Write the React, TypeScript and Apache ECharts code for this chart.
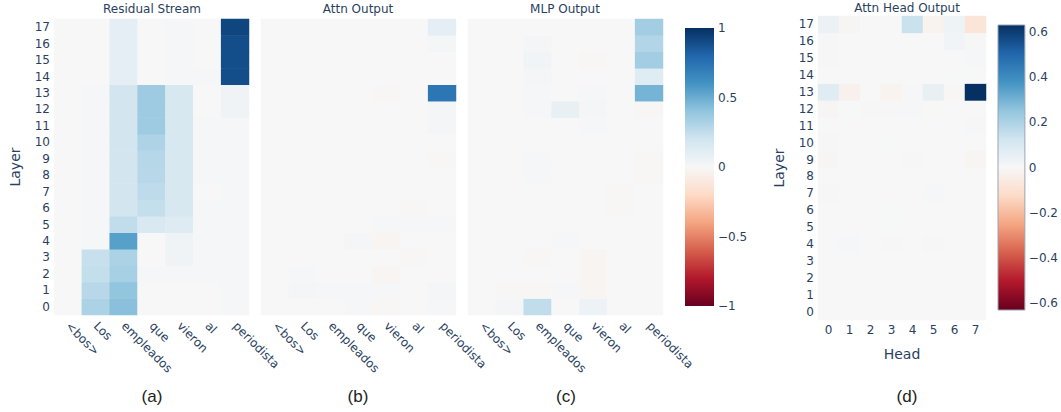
import React, { useEffect, useRef } from "react";
import * as echarts from "echarts";

const TOKENS = ["<bos>", "Los", "empleados", "que", "vieron", "al", "periodista"];
const LAYERS = ["0", "1", "2", "3", "4", "5", "6", "7", "8", "9", "10", "11", "12", "13", "14", "15", "16", "17"];
const HEADS = ["0", "1", "2", "3", "4", "5", "6", "7"];

// rows = layer 0..17, cols = tokens
const RESIDUAL = [
  [0.0, 0.32, 0.42, 0.0, 0.0, 0.0, 0.01],
  [0.0, 0.28, 0.40, 0.0, 0.0, 0.0, 0.01],
  [0.0, 0.24, 0.33, 0.01, 0.01, 0.01, 0.01],
  [0.0, 0.23, 0.32, 0.0, 0.04, 0.01, 0.01],
  [0.0, 0.01, 0.55, 0.0, 0.05, 0.01, 0.01],
  [0.0, 0.01, 0.25, 0.16, 0.13, 0.01, 0.01],
  [0.0, 0.01, 0.19, 0.24, 0.17, 0.01, 0.01],
  [0.0, 0.01, 0.19, 0.26, 0.17, 0.0, 0.01],
  [0.0, 0.01, 0.19, 0.28, 0.17, 0.01, 0.01],
  [0.0, 0.01, 0.19, 0.29, 0.17, 0.01, 0.01],
  [0.0, 0.01, 0.19, 0.31, 0.17, 0.01, 0.01],
  [0.0, 0.01, 0.19, 0.36, 0.17, 0.01, 0.01],
  [0.0, 0.01, 0.19, 0.36, 0.17, 0.0, 0.04],
  [0.0, 0.01, 0.19, 0.36, 0.17, 0.0, 0.04],
  [0.0, 0.0, 0.1, 0.0, 0.01, 0.01, 0.89],
  [0.0, 0.0, 0.1, 0.0, 0.01, 0.0, 0.89],
  [0.0, 0.0, 0.1, 0.0, 0.01, 0.0, 0.89],
  [0.0, 0.0, 0.1, 0.0, 0.01, 0.0, 0.92],
];

const ATTN = [
  [0.0, 0.0, 0.0, 0.01, -0.01, 0.0, 0.01],
  [0.0, 0.02, 0.01, 0.01, 0.01, 0.0, 0.02],
  [0.0, 0.01, 0.0, 0.0, -0.02, 0.0, 0.0],
  [0.0, 0.0, 0.0, 0.0, 0.0, -0.01, 0.0],
  [0.0, 0.0, 0.0, 0.02, -0.02, 0.0, 0.0],
  [0.0, 0.0, 0.0, 0.0, 0.01, 0.01, 0.01],
  [0.0, 0.0, 0.0, 0.0, 0.0, -0.01, 0.0],
  [0.0, 0.0, 0.0, 0.0, 0.0, 0.0, 0.0],
  [0.0, 0.0, 0.0, 0.0, 0.0, 0.0, 0.0],
  [0.0, 0.0, 0.0, 0.0, 0.0, 0.0, -0.01],
  [0.0, 0.0, 0.0, 0.0, 0.0, 0.0, 0.0],
  [0.0, 0.0, 0.0, 0.0, 0.0, 0.0, 0.02],
  [0.0, 0.0, 0.0, 0.0, 0.0, 0.0, 0.02],
  [0.0, 0.0, 0.0, 0.0, -0.01, 0.0, 0.73],
  [0.0, 0.0, 0.0, 0.0, 0.0, 0.0, 0.0],
  [0.0, 0.0, 0.0, 0.0, 0.0, 0.0, 0.0],
  [0.0, 0.0, 0.0, 0.0, 0.0, 0.0, 0.02],
  [0.0, 0.0, 0.0, 0.0, 0.0, 0.0, 0.1],
];

const MLP = [
  [0.0, 0.02, 0.25, 0.0, 0.06, 0.0, 0.0],
  [0.0, -0.01, -0.01, 0.01, -0.02, 0.0, 0.0],
  [0.0, 0.0, 0.0, 0.0, -0.02, 0.0, 0.0],
  [0.0, 0.0, -0.01, 0.0, -0.02, 0.0, 0.0],
  [0.0, 0.0, 0.0, 0.01, 0.0, 0.0, 0.0],
  [0.0, 0.0, 0.0, 0.0, 0.0, 0.0, 0.0],
  [0.0, 0.0, 0.0, 0.0, 0.0, -0.01, 0.0],
  [0.0, 0.0, 0.0, 0.0, 0.0, -0.01, 0.0],
  [0.0, 0.0, 0.01, 0.0, 0.0, 0.0, -0.01],
  [0.0, 0.0, 0.01, 0.0, 0.0, 0.0, -0.01],
  [0.0, 0.0, 0.0, 0.0, 0.0, 0.0, 0.0],
  [0.0, 0.0, 0.0, 0.0, 0.01, 0.0, 0.0],
  [0.0, 0.0, 0.01, 0.08, 0.02, 0.0, -0.01],
  [0.0, 0.0, 0.01, 0.0, 0.01, 0.0, 0.47],
  [0.0, 0.0, 0.02, 0.0, 0.0, 0.0, 0.12],
  [0.0, 0.0, 0.03, 0.0, -0.01, 0.0, 0.35],
  [0.0, 0.0, 0.02, 0.0, 0.0, 0.0, 0.3],
  [0.0, 0.0, 0.0, 0.0, 0.0, 0.0, 0.35],
];

const HEAD_OUT = [
  [0.0, 0.0, 0.0, 0.0, 0.0, 0.0, 0.0, 0.0],
  [0.0, 0.0, 0.0, 0.0, 0.0, 0.0, 0.0, 0.0],
  [0.0, 0.0, 0.0, 0.0, 0.0, 0.0, 0.0, 0.0],
  [0.0, 0.0, 0.0, 0.0, 0.0, 0.0, 0.0, 0.0],
  [0.0, 0.006, 0.0, 0.004, 0.0, 0.004, 0.0, 0.0],
  [0.0, 0.0, 0.0, 0.002, 0.0, 0.0, 0.0, 0.0],
  [0.0, 0.0, 0.0, 0.002, 0.0, 0.0, 0.0, 0.0],
  [0.004, 0.0, 0.0, 0.0, 0.0, 0.006, 0.0, 0.0],
  [0.0, 0.0, 0.0, 0.0, 0.0, 0.0, 0.0, 0.0],
  [-0.008, 0.0, 0.0, 0.0, -0.003, 0.0, 0.0, -0.012],
  [0.004, 0.0, 0.0, 0.003, 0.0, 0.0, 0.0, 0.0],
  [0.0, 0.0, 0.0, 0.0, 0.0, 0.0, 0.0, 0.006],
  [-0.008, 0.003, 0.004, 0.004, 0.008, -0.002, 0.0, 0.0],
  [0.08, -0.03, 0.0, -0.02, 0.008, 0.05, -0.005, 0.63],
  [0.0, 0.0, 0.0, 0.0, 0.0, 0.0, 0.003, 0.0],
  [-0.003, 0.0, 0.0, 0.0, 0.0, 0.0, 0.0, 0.006],
  [0.004, 0.0, 0.0, 0.0, 0.0, 0.0, 0.02, 0.004],
  [0.04, -0.01, 0.0, 0.0, 0.14, -0.02, 0.03, -0.08],
];

const CB1_TICKS = [-1, -0.5, 0, 0.5, 1];
const CB2_TICKS = [-0.6, -0.4, -0.2, 0, 0.2, 0.4, 0.6];
const CB2_RANGE = [-0.63, 0.63];

const RDBU = ["#67001f", "#b2182b", "#d6604d", "#f4a582", "#fddbc7", "#f7f7f7", "#d1e5f0", "#92c5de", "#4393c3", "#2166ac", "#053061"];

const TXT = "#2a3f5f";
const FONT = "DejaVu Sans";

function toCells(rows: number[][]) {
  const out: number[][] = [];
  rows.forEach((row, r) => row.forEach((v, c) => out.push([c, r, v])));
  return out;
}

const minus = (v: number) => String(v).replace("-", "\u2212");

export default function App() {
  const ref = useRef<HTMLDivElement>(null);
  useEffect(() => {
    if (!ref.current) return;
    const chart = echarts.init(ref.current, null, { renderer: "svg" });
    const grids = [
      { left: 54, top: 19, width: 195, height: 296 },
      { left: 261, top: 19, width: 195, height: 296 },
      { left: 468, top: 19, width: 195, height: 296 },
      { left: 818, top: 16, width: 168, height: 304 },
      { left: 685, top: 28, width: 29, height: 278 },
      { left: 998, top: 25, width: 29, height: 285 },
    ];
    const tokAxis = (i: number) => ({
      type: "category",
      gridIndex: i,
      data: TOKENS,
      axisLine: { show: false },
      axisTick: { show: false },
      splitLine: { show: false },
      axisLabel: { rotate: -45, interval: 0, margin: 9, color: TXT, fontSize: 12, fontFamily: FONT },
    });
    const layerAxis = (i: number, show: boolean) => ({
      type: "category",
      gridIndex: i,
      data: LAYERS,
      axisLine: { show: false },
      axisTick: { show: false },
      splitLine: { show: false },
      axisLabel: { show, interval: 0, margin: 4, color: TXT, fontSize: 12, fontFamily: FONT },
      name: show ? "Layer" : "",
      nameLocation: "middle",
      nameGap: 32,
      nameTextStyle: { color: TXT, fontSize: 14, fontFamily: FONT },
    });
    const gradient = () =>
      new echarts.graphic.LinearGradient(
        0, 0, 0, 1,
        RDBU.slice().reverse().map((c, i) => ({ offset: i / (RDBU.length - 1), color: c }))
      );
    const cbRender = (stroke: string | null) => (params: any, api: any) => {
      const p0 = api.coord([0, api.value(2)]);
      const p1 = api.coord([1, api.value(1)]);
      return {
        type: "rect",
        shape: { x: p0[0], y: p0[1], width: p1[0] - p0[0], height: p1[1] - p0[1] },
        style: { fill: gradient(), stroke: stroke || undefined, lineWidth: stroke ? 1 : 0 },
      };
    };
    const heat = (i: number, rows: number[][]) => ({
      type: "heatmap",
      xAxisIndex: i,
      yAxisIndex: i,
      data: toCells(rows),
      itemStyle: { borderWidth: 0 },
      emphasis: { disabled: true },
      silent: true,
    });
    const titleStyle = { color: TXT, fontSize: 12, fontWeight: "normal", fontFamily: FONT };
    const capStyle = { color: "#222", fontSize: 17, fontWeight: "normal", fontFamily: "Liberation Sans" };
    chart.setOption({
      animation: false,
      backgroundColor: "#fff",
      title: [
        { text: "Residual Stream", left: 152, top: 3, textAlign: "center", textStyle: titleStyle, padding: 0 },
        { text: "Attn Output", left: 358, top: 3, textAlign: "center", textStyle: titleStyle, padding: 0 },
        { text: "MLP Output", left: 565, top: 3, textAlign: "center", textStyle: titleStyle, padding: 0 },
        { text: "Attn Head Output", left: 904, top: 1, textAlign: "center", textStyle: titleStyle, padding: [1, 3, 1, 3], backgroundColor: "#fff", z: 20 },
        { text: "(a)", left: 152, top: 388, textAlign: "center", textStyle: capStyle, padding: 0 },
        { text: "(b)", left: 358, top: 388, textAlign: "center", textStyle: capStyle, padding: 0 },
        { text: "(c)", left: 566, top: 388, textAlign: "center", textStyle: capStyle, padding: 0 },
        { text: "(d)", left: 907, top: 388, textAlign: "center", textStyle: capStyle, padding: 0 },
      ],
      grid: grids,
      xAxis: [
        tokAxis(0),
        tokAxis(1),
        tokAxis(2),
        {
          type: "category",
          gridIndex: 3,
          data: HEADS,
          axisLine: { show: false },
          axisTick: { show: false },
          splitLine: { show: false },
          axisLabel: { interval: 0, margin: 4, color: TXT, fontSize: 12, fontFamily: FONT },
          name: "Head",
          nameLocation: "middle",
          nameGap: 27,
          nameTextStyle: { color: TXT, fontSize: 14, fontFamily: FONT },
        },
        { type: "value", gridIndex: 4, min: 0, max: 1, show: false },
        { type: "value", gridIndex: 5, min: 0, max: 1, show: false },
      ],
      yAxis: [
        layerAxis(0, true),
        layerAxis(1, false),
        layerAxis(2, false),
        layerAxis(3, true),
        {
          type: "value",
          gridIndex: 4,
          min: CB1_TICKS[0],
          max: CB1_TICKS[CB1_TICKS.length - 1],
          interval: 0.5,
          position: "right",
          axisLine: { show: false },
          axisTick: { show: false },
          splitLine: { show: false },
          axisLabel: { margin: 4, color: TXT, fontSize: 12, fontFamily: FONT, formatter: minus },
        },
        {
          type: "value",
          gridIndex: 5,
          min: CB2_RANGE[0],
          max: CB2_RANGE[1],
          position: "right",
          axisLine: { show: false },
          axisTick: { show: false },
          splitLine: { show: false },
          axisLabel: { margin: 4, color: TXT, fontSize: 12, fontFamily: FONT, customValues: CB2_TICKS, formatter: minus },
        },
      ],
      visualMap: [
        { type: "continuous", show: false, seriesIndex: [0, 1, 2], dimension: 2, min: CB1_TICKS[0], max: CB1_TICKS[CB1_TICKS.length - 1], inRange: { color: RDBU } },
        { type: "continuous", show: false, seriesIndex: [3], dimension: 2, min: CB2_RANGE[0], max: CB2_RANGE[1], inRange: { color: RDBU } },
      ],
      series: [
        heat(0, RESIDUAL),
        heat(1, ATTN),
        heat(2, MLP),
        heat(3, HEAD_OUT),
        { type: "custom", xAxisIndex: 4, yAxisIndex: 4, silent: true, clip: false, data: [[0, CB1_TICKS[0], CB1_TICKS[CB1_TICKS.length - 1]]], renderItem: cbRender(null) },
        { type: "custom", xAxisIndex: 5, yAxisIndex: 5, silent: true, clip: false, data: [[0, CB2_RANGE[0], CB2_RANGE[1]]], renderItem: cbRender("#9aa4b4") },
      ],
    });
    return () => chart.dispose();
  }, []);
  return <div ref={ref} style={{ position: "absolute", left: 0, top: 0, width: 1061, height: 412 }} />;
}
